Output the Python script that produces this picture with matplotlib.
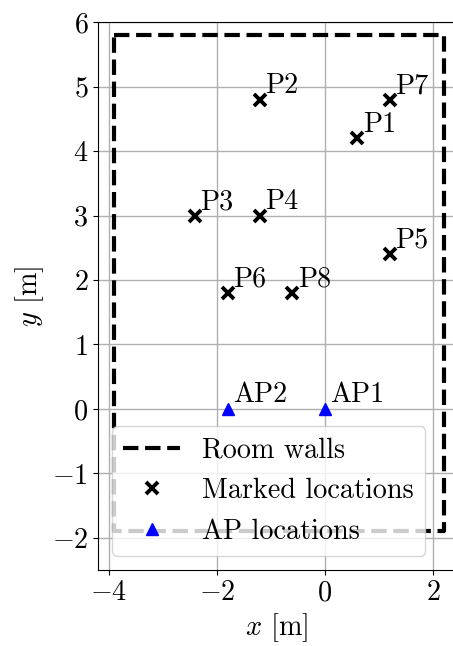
import matplotlib

matplotlib.use("Agg")
import matplotlib.pyplot as plt

plt.rcParams.update(
    {
        "font.family": "serif",
        "font.serif": ["cmr10"],
        "mathtext.fontset": "cm",
        "axes.formatter.use_mathtext": True,
        "font.size": 20.3,
    }
)

# room outline (corners, closed loop)
wall_x = [-3.9, 2.2, 2.2, -3.9, -3.9]
wall_y = [5.8, 5.8, -1.9, -1.9, 5.8]

# marked test locations
point_names = ["P1", "P2", "P3", "P4", "P5", "P6", "P7", "P8"]
point_x = [0.6, -1.2, -2.4, -1.2, 1.2, -1.8, 1.2, -0.6]
point_y = [4.2, 4.8, 3.0, 3.0, 2.4, 1.8, 4.8, 1.8]

# access points
ap_names = ["AP1", "AP2"]
ap_x = [0.0, -1.8]
ap_y = [0.0, 0.0]

fig = plt.figure(figsize=(4.53, 6.46), dpi=100)
ax = fig.add_axes([0.2163, 0.1176, 0.787, 0.848])

ax.plot(wall_x, wall_y, "k--", lw=3, label="Room walls", zorder=3)
ax.plot(point_x, point_y, "kx", ms=9, mew=2.8, ls="none", label="Marked locations", zorder=4)
ax.plot(ap_x, ap_y, "b^", ms=8, ls="none", label="AP locations", zorder=4)

for name, x, y in zip(point_names, point_x, point_y):
    ax.text(x + 0.1, y + 0.1, name, ha="left", va="baseline")
for name, x, y in zip(ap_names, ap_x, ap_y):
    ax.text(x + 0.1, y + 0.1, name, ha="left", va="baseline")

ax.set_xlim(-4.2, 2.4)
ax.set_ylim(-2.5, 6)
ax.set_xticks([-4, -2, 0, 2])
ax.grid(True, color="#b0b0b0", lw=1)
ax.set_axisbelow(True)
ax.set_xlabel("$x$ [m]")
ax.set_ylabel("$y$ [m]")
ax.legend(loc="lower left", framealpha=0.8, handlelength=2.0)

fig.savefig("out.png", dpi=100)
